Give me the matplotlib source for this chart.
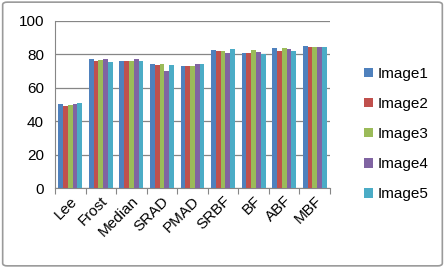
import matplotlib.pyplot as plt
import numpy as np
from matplotlib.patches import FancyBboxPatch

# =========================
# Dados
# =========================
methods = ["Lee", "Frost", "Median", "SRAD", "PMAD", "SRBF", "BF", "ABF", "MBF"]
series_names = ["Image1", "Image2", "Image3", "Image4", "Image5"]
image1 = [50.5, 77.4, 76.2, 74.0, 73.0, 82.6, 80.6, 83.6, 85.0]
image2 = [49.1, 76.2, 76.2, 73.4, 73.0, 81.8, 80.6, 82.2, 84.2]
image3 = [49.5, 76.6, 76.2, 74.0, 72.8, 81.8, 82.6, 83.8, 84.6]
image4 = [50.4, 77.4, 77.2, 70.2, 74.2, 80.8, 81.4, 83.0, 84.4]
image5 = [51.0, 75.6, 76.2, 73.4, 74.2, 83.2, 80.0, 82.0, 84.4]
colors = ["#4F81BD", "#C0504D", "#9BBB59", "#8064A2", "#4BACC6"]

# =========================
# Figura
# =========================
plt.rcParams["font.family"] = ["Liberation Sans", "DejaVu Sans"]
fig = plt.figure(figsize=(4.45, 2.68), dpi=100)
ax = fig.add_axes([55 / 445, 1 - 188.3 / 268, (330 - 55) / 445, (188.3 - 20.7) / 268])

data = [image1, image2, image3, image4, image5]
x = np.arange(len(methods))
n = len(data)
group_w = 0.78
bw = group_w / n
for i, (vals, name, c) in enumerate(zip(data, series_names, colors)):
    ax.bar(x - group_w / 2 + bw * (i + 0.5), vals, bw, color=c, label=name, zorder=3)

ax.set_xlim(-0.5, len(methods) - 0.5)
ax.set_ylim(0, 100)
ax.set_yticks(range(0, 101, 20))
ax.yaxis.grid(True, color="#868686", linewidth=0.9, zorder=0)
for s in ["top", "right"]:
    ax.spines[s].set_visible(False)
ax.spines["left"].set_color("#868686")
ax.spines["bottom"].set_color("#868686")
ax.tick_params(axis="y", length=0, labelsize=11, pad=8, colors="black")
ax.set_xticks(np.arange(-0.5, len(methods), 1), minor=False)
ax.set_xticklabels([])
ax.set_xticks(x, minor=True)
ax.set_xticklabels(methods, minor=True, rotation=45, ha="right", rotation_mode="anchor", fontsize=11)
ax.tick_params(axis="x", which="major", length=4, color="#868686")
ax.tick_params(axis="x", which="minor", length=0, pad=4)

handles, labels = ax.get_legend_handles_labels()
fig.legend(handles, labels, loc="center left", bbox_to_anchor=(350 / 445, 1 - 134 / 268),
           frameon=False, fontsize=11, handlelength=0.6, handleheight=0.6,
           handletextpad=0.3, labelspacing=1.05)

border = FancyBboxPatch((0.006, 0.008), 0.988, 0.984, boxstyle="round,pad=0,rounding_size=0.01",
                        transform=fig.transFigure, fill=False, edgecolor="#9a9a9a", linewidth=1.2)
fig.patches.append(border)

plt.savefig("out.png", dpi=100)
